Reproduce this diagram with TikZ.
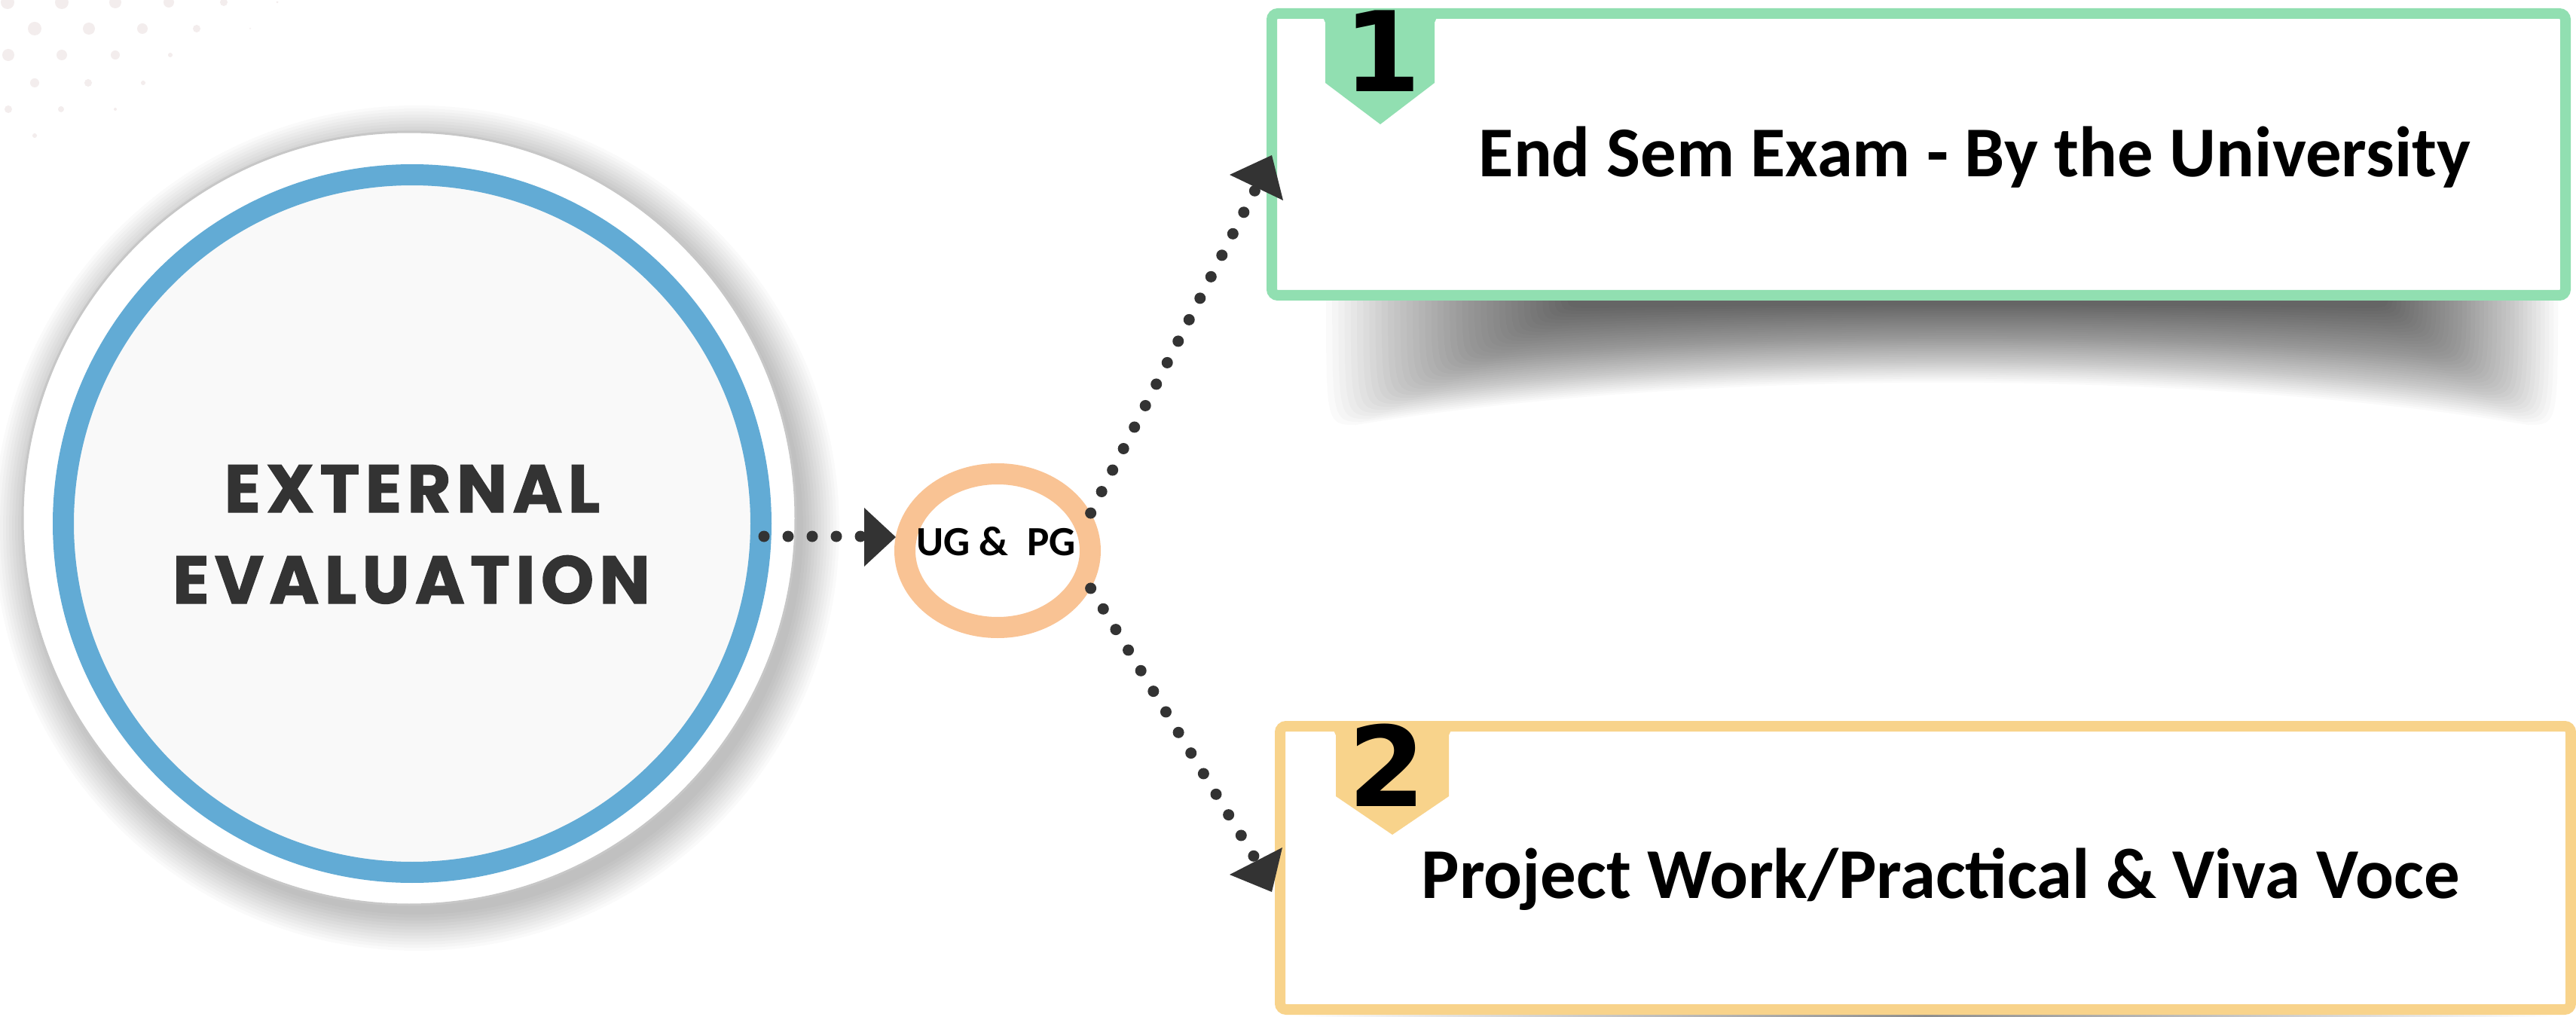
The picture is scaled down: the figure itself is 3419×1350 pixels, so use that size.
\documentclass[tikz,border=0pt]{standalone}
\usepackage{fontspec}
\setmainfont{Carlito}
\newfontfamily\digitfont{DejaVu Sans}
\newfontfamily\circfont{Poppins}[LetterSpace=8, FakeBold=1.2]
\usetikzlibrary{shapes.geometric}
\definecolor{dk}{HTML}{333333}
\definecolor{gr}{HTML}{91DFB1}
\definecolor{yl}{HTML}{F8D38B}
\definecolor{org}{HTML}{F9C394}
\definecolor{bl}{HTML}{62ABD5}
\definecolor{bgdot}{HTML}{F3EDED}
\definecolor{inner}{HTML}{F9F9F9}
\begin{document}
\begin{tikzpicture}[x=0.1mm,y=-0.1mm,
  dotline/.style={draw=dk, line width=1.5mm, line cap=round, dash pattern=on 0mm off 3.2mm},
  boxstyle/.style={rectangle, line width=1.4mm, rounded corners=0.8mm, fill=white, inner sep=0},
  boxtext/.style={anchor=base west, inner sep=0, text=black, font=\bfseries\fontsize{27}{32}\selectfont},
  digit/.style={anchor=base, inner sep=0, text=black, font=\digitfont\bfseries\fontsize{42}{48}\selectfont},
  circtext/.style={anchor=base, inner sep=0, text=dk, font=\circfont\bfseries\fontsize{25.5}{30}\selectfont}]
\useasboundingbox (0,0) rectangle (3419,1350);
\fill[white] (0,0) rectangle (3419,1350);
% background dots
\foreach \x/\y/\r in {10/3/0.9, 82/3/0.9, 153/3/0.8, 224/3/0.7, 297/3/0.5, 368/3/0.15,
  46/38/0.9, 118/38/0.8, 189/38/0.7, 261/38/0.5, 332/38/0.1,
  11/73/0.8, 82/73/0.7, 153/73/0.6, 226/73/0.3,
  46/110/0.6, 117/110/0.5, 190/110/0.3,
  11/145/0.5, 81/145/0.4, 153/145/0.2,
  46/180/0.3}
  \fill[bgdot] (\x,\y) circle[radius=\r mm];
% big circle shadow
\foreach \i in {0,...,12}
  \fill[black, opacity=0.018] (553,701) circle[radius={(51.3+\i*0.4)*1mm}];
\node[circle, fill=white, draw=black!22, line width=0.3mm, minimum size=102.6mm, inner sep=0] (disc) at (543,688) {};
\node[circle, draw=bl, fill=inner, line width=2.8mm, minimum size=92.6mm, inner sep=0] (ext) at (547,695) {};
\node[circtext] (c1) at (547,680) {EXTERNAL};
\node[circtext] (c2) at (546,801) {EVALUATION};
% shadow under box 1 (stacked translucent layers)
\foreach \k in {0,...,39}{
  \pgfmathsetmacro\t{\k/39}
  \pgfmathsetmacro\L{2080-320*\t}
  \pgfmathsetmacro\R{3170+225*\t}
  \pgfmathsetmacro\De{399+10+155*\t}
  \pgfmathsetmacro\Dm{399+5+85*\t}
  \pgfmathsetmacro\Lc{\L+0.3*(\R-\L)}
  \pgfmathsetmacro\Rc{\R-0.3*(\R-\L)}
  \pgfmathsetmacro\Li{\L+40}
  \pgfmathsetmacro\Ri{\R-40}
  \fill[black, opacity=0.018] (\L,390) -- (\R,390) .. controls (\R,\De) .. (\Ri,\De) .. controls (\Rc,\Dm) and (\Lc,\Dm) .. (\Li,\De) .. controls (\L,\De) .. (\L,390) -- cycle;
}
% shadow under box 2
\shade[left color=white, right color=white, middle color=black!45] (1720,1343) rectangle (3390,1350);
% boxes
\node[boxstyle, draw=gr, minimum width=171.7mm, minimum height=37.4mm] (box1) at (2546.5,205) {};
\node[boxstyle, draw=yl, minimum width=171.3mm, minimum height=37.6mm] (box2) at (2555.5,1152) {};
% badges
\fill[gr] (1754,19) -- (1909,19) -- (1904,30) -- (1904,110) -- (1832,165) -- (1759,110) -- (1759,30) -- cycle;
\fill[yl] (1768,965) -- (1928,965) -- (1923,976) -- (1923,1057) -- (1848,1108) -- (1773,1057) -- (1773,976) -- cycle;
\node[digit] (d1) at (1835,122) {1};
\node[digit] (d2) at (1841,1070) {2};
\node[boxtext] (t1) at (1962,235) {End Sem Exam - By the University};
\node[boxtext] (t2) at (1886,1192) {Project Work/Practical \& Viva Voce};
% UG & PG
\node[ellipse, draw=org, fill=white, line width=2.8mm, minimum width=24.6mm, minimum height=20.4mm, inner sep=0] (ug) at (1324,731) {};
\node[anchor=base, inner sep=0, font=\bfseries\fontsize{15.7}{18}\selectfont] (ugt) at (1322,737) {UG \& \ PG};
% connectors
\coordinate (h0) at (1014,712);
\coordinate (h1) at (1147,712);
\coordinate (a1) at (1667,250);
\coordinate (a2) at (1668,1143);
\draw[dotline] (h0) -- (h1);
\fill[dk] (1147,674) -- (1189,713) -- (1147,752) -- cycle;
\draw[dotline] (ug.22) -- (a1);
\fill[dk] (1632,232) -- (1688,206) -- (1703,266) -- cycle;
\draw[dotline] (ug.-22) -- (a2);
\fill[dk] (1632,1161) -- (1702,1125) -- (1688,1184) -- cycle;
\end{tikzpicture}
\end{document}
